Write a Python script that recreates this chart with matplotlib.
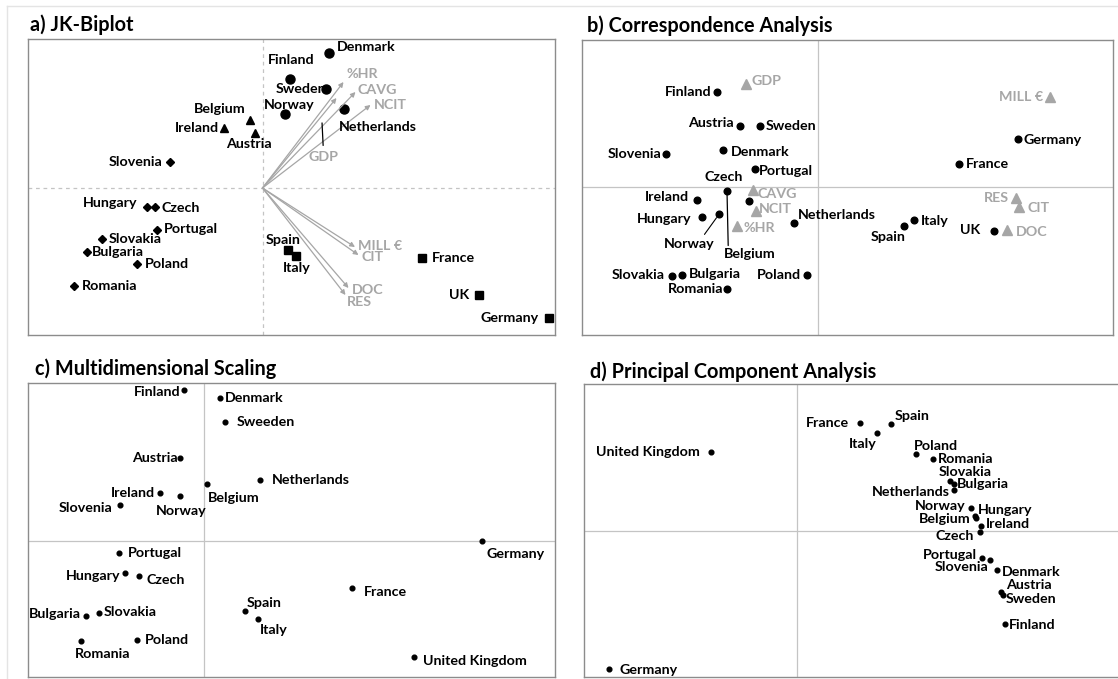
import numpy as np
import matplotlib as mpl
mpl.use('Agg')
from matplotlib import pyplot as plt

plt.rcParams['font.family'] = ['Lato', 'DejaVu Sans']
plt.rcParams['font.weight'] = 'bold'

W, H = 1118, 679
GREY = '#a6a6a6'
AXGREY = '#c4c4c4'
FS = 10.3   # point label size

# ---------- data: a) JK-Biplot ----------
a_names = ['Denmark', 'Finland', 'Sweden', 'Norway', 'Netherlands',
           'Belgium', 'Ireland', 'Austria',
           'Slovenia', 'Hungary', 'Czech', 'Portugal', 'Slovakia', 'Bulgaria', 'Poland', 'Romania',
           'Spain', 'Italy', 'France', 'UK', 'Germany']
a_x = [0.66, 0.27, 0.63, 0.22, 0.81, -0.13, -0.39, -0.08,
       -0.93, -1.16, -1.08, -1.06, -1.61, -1.76, -1.26, -1.89,
       0.25, 0.335, 1.59, 2.16, 2.86]
a_y = [1.35, 1.09, 0.99, 0.74, 0.79, 0.68, 0.60, 0.55,
       0.26, -0.19, -0.19, -0.42, -0.51, -0.64, -0.76, -0.98,
       -0.62, -0.68, -0.70, -1.07, -1.30]
a_group = ['o'] * 5 + ['^'] * 3 + ['D'] * 8 + ['s'] * 5
a_vars = ['%HR', 'GDP', 'CAVG', 'NCIT', 'MILL €', 'CIT', 'DOC', 'RES']
a_vx = [0.81, 0.74, 0.93, 1.08, 0.925, 0.96, 0.86, 0.83]
a_vy = [1.06, 0.90, 0.96, 0.83, -0.59, -0.67, -1.00, -1.07]

# ---------- data: b) Correspondence Analysis ----------
b_names = ['Finland', 'Austria', 'Sweden', 'Slovenia', 'Denmark', 'Portugal', 'Czech',
           'Belgium', 'Ireland', 'Hungary', 'Norway', 'Netherlands', 'Slovakia', 'Bulgaria',
           'Poland', 'Romania', 'Spain', 'Italy', 'UK', 'France', 'Germany']
b_x = [-1.01, -0.78, -0.58, -1.52, -0.95, -0.63, -0.91,
       -0.69, -1.21, -1.16, -0.99, -0.24, -1.46, -1.36,
       -0.11, -0.91, 0.86, 0.96, 1.76, 1.41, 2.00]
b_y = [0.95, 0.61, 0.61, 0.33, 0.37, 0.18, -0.04,
       -0.14, -0.13, -0.30, -0.27, -0.36, -0.89, -0.88,
       -0.88, -1.02, -0.39, -0.33, -0.44, 0.23, 0.48]
b_vars = ['GDP', 'CAVG', 'NCIT', '%HR', 'DOC', 'RES', 'CIT', 'MILL €']
b_vx = [-0.72, -0.65, -0.62, -0.81, 1.89, 1.98, 2.01, 2.32]
b_vy = [1.03, -0.03, -0.24, -0.39, -0.43, -0.11, -0.20, 0.90]

# ---------- data: c) Multidimensional Scaling ----------
c_names = ['Finland', 'Denmark', 'Sweeden', 'Austria', 'Netherlands', 'Belgium', 'Ireland',
           'Norway', 'Slovenia', 'Germany', 'Portugal', 'Hungary', 'Czech', 'France',
           'Spain', 'Italy', 'Bulgaria', 'Slovakia', 'Romania', 'Poland', 'United Kingdom']
c_x = [-0.20, 0.16, 0.21, -0.24, 0.56, 0.03, -0.44,
       -0.24, -0.84, 2.78, -0.85, -0.79, -0.65, 1.48,
       0.41, 0.54, -1.18, -1.05, -1.23, -0.67, 2.10]
c_y = [1.51, 1.43, 1.19, 0.83, 0.61, 0.57, 0.48,
       0.45, 0.36, 0.00, -0.12, -0.32, -0.35, -0.47,
       -0.70, -0.78, -0.75, -0.72, -1.00, -0.99, -1.16]

# ---------- data: d) Principal Component Analysis ----------
d_names = ['United Kingdom', 'Germany', 'France', 'Spain', 'Italy', 'Poland', 'Romania',
           'Slovakia', 'Bulgaria', 'Netherlands', 'Norway', 'Hungary', 'Belgium', 'Ireland',
           'Czech', 'Portugal', 'Slovenia', 'Denmark', 'Austria', 'Sweden', 'Finland']
d_x = [-0.86, -1.88, 0.63, 0.94, 0.80, 1.19, 1.36,
       1.53, 1.57, 1.57, 1.74, 1.78, 1.79, 1.84,
       1.83, 1.85, 1.93, 2.00, 2.04, 2.06, 2.08]
d_y = [0.79, -1.38, 1.08, 1.07, 0.98, 0.77, 0.72,
       0.50, 0.47, 0.41, 0.23, 0.15, 0.13, 0.05,
       -0.01, -0.27, -0.29, -0.39, -0.61, -0.64, -0.93]

# label placement (dx, dy in pixels, alignment)
a_spots = {'Denmark': (8, 6, 'left'), 'Finland': (2, 19, 'center'), 'Sweden': (1, 0, 'right'),
           'Norway': (5, 9, 'center'), 'Netherlands': (-5, -18, 'left'), 'Belgium': (-4, 11, 'right'),
           'Ireland': (-5, 0, 'right'), 'Austria': (-6, -11, 'center'), 'Slovenia': (-7, 0, 'right'),
           'Hungary': (-9, 4, 'right'), 'Czech': (7, -1, 'left'), 'Portugal': (7, 1, 'left'),
           'Slovakia': (7, 0, 'left'), 'Bulgaria': (5, 0, 'left'), 'Poland': (8, 0, 'left'),
           'Romania': (8, 0, 'left'), 'Spain': (-4, 10, 'center'), 'Italy': (1, -12, 'center'),
           'France': (10, 0, 'left'), 'UK': (-9, 0, 'right'), 'Germany': (-10, 0, 'right')}
a_vspots = {'%HR': (3, 8, 'left'), 'CAVG': (2, 2, 'left'), 'NCIT': (3, 0, 'left'),
            'MILL €': (3, 1, 'left'), 'CIT': (3, -2, 'left'), 'DOC': (3, -2, 'left'),
            'RES': (1, -7, 'left')}
b_spots = {'Finland': (-5, 0, 'right'), 'Austria': (-6, 3, 'right'), 'Sweden': (6, 0, 'left'),
           'Slovenia': (-5, 0, 'right'), 'Denmark': (8, -2, 'left'), 'Portugal': (4, -2, 'left'),
           'Czech': (-3, 14, 'center'), 'Ireland': (-8, 3, 'right'), 'Hungary': (-11, -2, 'right'),
           'Netherlands': (4, 8, 'left'), 'Slovakia': (-7, 1, 'right'), 'Bulgaria': (7, 1, 'left'),
           'Poland': (-6, 0, 'right'), 'Romania': (-4, 0, 'right'), 'Spain': (-16, -11, 'center'),
           'Italy': (7, -1, 'left'), 'UK': (-14, 1, 'right'), 'France': (7, 0, 'left'),
           'Germany': (6, -1, 'left')}
b_vspots = {'GDP': (6, 3, 'left'), 'CAVG': (5, -4, 'left'), 'NCIT': (3, 2, 'left'),
            '%HR': (6, -2, 'left'), 'DOC': (9, -2, 'left'), 'RES': (-7, 0, 'right'),
            'CIT': (8, -1, 'left'), 'MILL €': (-7, 0, 'right')}
c_spots = {'Finland': (-3, -2, 'right'), 'Denmark': (5, 0, 'left'), 'Sweeden': (12, 0, 'left'),
           'Austria': (-2, 0, 'right'), 'Netherlands': (12, 0, 'left'), 'Belgium': (1, -14, 'left'),
           'Ireland': (-5, 0, 'right'), 'Norway': (2, -15, 'center'), 'Slovenia': (-7, -3, 'right'),
           'Germany': (34, -13, 'center'), 'Portugal': (9, 0, 'left'), 'Hungary': (-4, -3, 'right'),
           'Czech': (8, -4, 'left'), 'France': (12, -4, 'left'), 'Spain': (2, 8, 'left'),
           'Italy': (2, -11, 'left'), 'Bulgaria': (-5, 2, 'right'), 'Slovakia': (5, 1, 'left'),
           'Romania': (22, -13, 'center'), 'Poland': (8, 0, 'left'),
           'United Kingdom': (9, -4, 'left')}
d_spots = {'United Kingdom': (-11, 0, 'right'), 'Germany': (10, -1, 'left'),
           'France': (-11, 0, 'right'), 'Spain': (4, 8, 'left'), 'Italy': (0, -11, 'right'),
           'Poland': (-2, 8, 'left'), 'Romania': (5, 0, 'left'), 'Slovakia': (15, 9, 'center'),
           'Bulgaria': (3, 0, 'left'), 'Netherlands': (-4, -2, 'right'), 'Norway': (-5, 2, 'right'),
           'Hungary': (3, 6, 'left'), 'Belgium': (-5, -1, 'right'), 'Ireland': (5, 2, 'left'),
           'Czech': (-6, -4, 'right'), 'Portugal': (-5, 3, 'right'), 'Slovenia': (-2, -7, 'right'),
           'Denmark': (5, -2, 'left'), 'Austria': (5, 7, 'left'), 'Sweden': (3, -4, 'left'),
           'Finland': (4, -1, 'left')}


def box(fig, l, t, r, b, xlim, ylim, ls='-'):
    ax = fig.add_axes([l / W, 1 - b / H, (r - l) / W, (b - t) / H])
    ax.set_xlim(xlim)
    ax.set_ylim(ylim)
    ax.set_xticks([])
    ax.set_yticks([])
    for s in ax.spines.values():
        s.set_color('#8c8c8c')
        s.set_linewidth(1.0)
    ax.axhline(0, color=AXGREY, lw=0.9, ls=ls, zorder=0)
    ax.axvline(0, color=AXGREY, lw=0.9, ls=ls, zorder=0)
    return ax


def put_labels(ax, xs, ys, names, spots, color='black', size=FS):
    for x, y, n in zip(xs, ys, names):
        if n not in spots:
            continue
        dx, dy, ha = spots[n]
        ax.annotate(n, (x, y), xytext=(dx, dy), textcoords='offset pixels',
                    ha=ha, va='center', fontsize=size, color=color, fontweight='bold')


fig = plt.figure(figsize=(W / 100, H / 100), dpi=100)

# faint frame of the screenshot
fig.add_artist(plt.Line2D([7 / W, 1], [1 - 6 / H, 1 - 6 / H], color='#e4e4e4', lw=1))
fig.add_artist(plt.Line2D([7 / W, 7 / W], [0, 1 - 6 / H], color='#e4e4e4', lw=1))

# ---------- a) ----------
ax = box(fig, 27.5, 39, 555, 335, (-2.35, 2.925), (-1.47, 1.49), ls=(0, (3, 3)))
for vx, vy in zip(a_vx, a_vy):
    ax.annotate('', xy=(vx, vy), xytext=(0, 0),
                arrowprops=dict(arrowstyle='-|>', color=GREY, lw=0.9, mutation_scale=7,
                                shrinkA=0, shrinkB=0))
put_labels(ax, a_vx, a_vy, a_vars, a_vspots, color=GREY)
gi = a_vars.index('GDP')
ax.annotate('GDP', (0.8 * a_vx[gi], 0.8 * a_vy[gi]), xytext=(2, -41), textcoords='offset pixels',
            ha='center', va='center', fontsize=FS, color=GREY, fontweight='bold',
            arrowprops=dict(arrowstyle='-', color='black', lw=0.9, shrinkA=2, shrinkB=5))
for m in ['o', '^', 'D', 's']:
    xs = [x for x, g in zip(a_x, a_group) if g == m]
    ys = [y for y, g in zip(a_y, a_group) if g == m]
    ms = {'o': 6.5, '^': 5.8, 'D': 4.3, 's': 5.8}[m]
    ax.plot(xs, ys, m, color='black', ms=ms, ls='none')
put_labels(ax, a_x, a_y, a_names, a_spots)

# ---------- b) ----------
ax = box(fig, 582, 40, 1113, 335, (-2.36, 2.95), (-1.477, 1.473))
ax.plot(b_vx, b_vy, '^', color=GREY, ms=6.5, ls='none')
put_labels(ax, b_vx, b_vy, b_vars, b_vspots, color=GREY)
ax.plot(b_x, b_y, 'o', color='black', ms=4.8, ls='none')
put_labels(ax, b_x, b_y, b_names, b_spots)
ni = b_names.index('Norway')
ax.annotate('Norway', (b_x[ni], b_y[ni]), xytext=(-30, -30), textcoords='offset pixels',
            ha='center', va='center', fontsize=FS, fontweight='bold',
            arrowprops=dict(arrowstyle='-', color='black', lw=0.8, relpos=(0.75, 1.0),
                            shrinkA=1, shrinkB=3))
# leader from the Belgium label, drawn up to the Czech point as in the original
ci = b_names.index('Czech')
ax.annotate('Belgium', (b_x[ci], b_y[ci]), xytext=(23, -63), textcoords='offset pixels',
            ha='center', va='center', fontsize=FS, fontweight='bold',
            arrowprops=dict(arrowstyle='-', color='black', lw=0.9, relpos=(0.08, 1.0),
                            shrinkA=0, shrinkB=2))

# ---------- c) ----------
ax = box(fig, 28, 382.7, 555.4, 676.7, (-1.757, 3.518), (-1.357, 1.583))
ax.plot(c_x, c_y, 'o', color='black', ms=3.4, ls='none')
put_labels(ax, c_x, c_y, c_names, c_spots)

# ---------- d) ----------
ax = box(fig, 584.3, 384, 1125, 676.7, (-2.127, 3.28), (-1.46, 1.467))
ax.plot(d_x, d_y, 'o', color='black', ms=3.4, ls='none')
put_labels(ax, d_x, d_y, d_names, d_spots)

# ---------- panel titles ----------
for tx, ty, t in [(30, 25, 'a) JK-Biplot'), (587, 26, 'b) Correspondence Analysis'),
                  (35, 369, 'c) Multidimensional Scaling'),
                  (590, 372, 'd) Principal Component Analysis')]:
    fig.text(tx / W, 1 - ty / H, t, ha='left', va='center', fontsize=14.3, fontweight='bold')

plt.savefig('out.png', dpi=100, facecolor='w')
